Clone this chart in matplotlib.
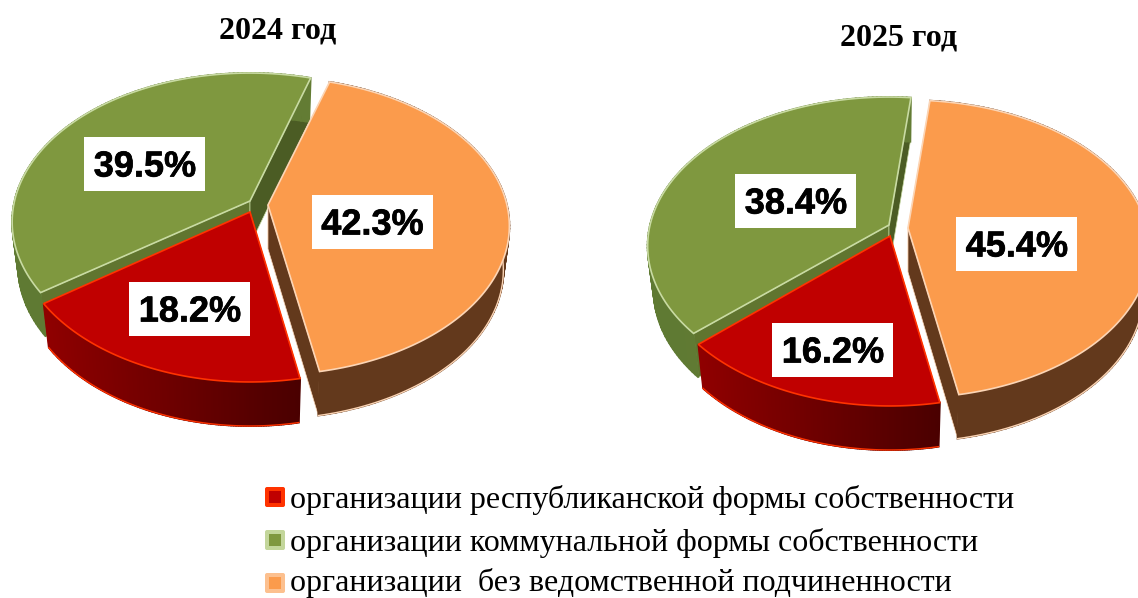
import numpy as np
import matplotlib
matplotlib.use("Agg")
import matplotlib.pyplot as plt
from matplotlib.patches import Polygon, Rectangle, FancyBboxPatch
from matplotlib.colors import to_rgb
import matplotlib.patheffects as pe

categories = ["организации республиканской формы собственности",
              "организации коммунальной формы собственности",
              "организации  без ведомственной подчиненности"]
titles = ["2024 год", "2025 год"]
values_2024 = [18.2, 39.5, 42.3]
values_2025 = [16.2, 38.4, 45.4]

W, H = 1138, 598
fig = plt.figure(figsize=(W/100, H/100), dpi=100)
ax = fig.add_axes([0, 0, 1, 1])
ax.set_xlim(0, W); ax.set_ylim(H, 0); ax.axis("off")

A, B, K = 232, 146, 0.141
INSET = 0.975
TOP = ["#c00000", "#7f983f", "#fb9b4c"]
EDGE = ["#ff3300", "#c9dba3", "#fcd5b5"]
WALL = [("#8f0000", "#4a0000"), ("#5f7a33", "#637c34"), ("#63391c", "#63391c")]
CUT = ["#4a0000", "#4b5c24", "#63391c"]
LAYER = {1: 2, 2: 3, 0: 4}

def rim(t, ap, sx, scale=1.0):
    x, y = np.sin(t), np.cos(t)
    w = 1 + K*y
    return ap[0] + scale*sx*A*x/w, ap[1] - B*y/w

def slice3d(ap, t0, t1, i, d, sx):
    z = LAYER[i]
    ts = np.linspace(t0, t1, 120)
    xs, ys = rim(ts, ap, sx)
    bx, by = rim(ts, ap, sx, INSET)
    by = by + d
    for t, col in ((t0, "#60752f" if i == 1 else CUT[i]), (t1, CUT[i])):
        rx, ry = rim(t, ap, sx)
        qx, qy = rim(t, ap, sx, INSET)
        ax.add_patch(Polygon([ap, (rx, ry), (qx, qy+d), (ap[0], ap[1]+d)],
                             fc=col, ec=EDGE[i], lw=0.5, zorder=z))
    c0, c1 = np.array(to_rgb(WALL[i][0])), np.array(to_rgb(WALL[i][1]))
    xmin, xmax = xs.min(), xs.max()
    for j in range(len(ts)-1):
        f = ((xs[j]+xs[j+1])/2 - xmin)/(xmax-xmin)
        col = c1*f + c0*(1-f)
        ax.add_patch(Polygon([(xs[j], ys[j]), (xs[j+1], ys[j+1]),
                              (bx[j+1], by[j+1]), (bx[j], by[j])],
                             fc=col, ec=col, lw=1.3, zorder=z+0.1))
    if i != 1:
        ax.plot(bx, by, color=EDGE[i], lw=1.0, zorder=z+0.2)
    ax.add_patch(Polygon(np.vstack([[ap], np.c_[xs, ys]]), fc=TOP[i], ec=EDGE[i],
                         lw=1.2, joinstyle="miter", zorder=z+0.3))

def pie3d(vals, start_deg, apexes, d, sx):
    order = [2, 0, 1]
    spans = {i: np.deg2rad(vals[i]/sum(vals)*360) for i in order}
    t = np.deg2rad(start_deg)
    for i in order:
        slice3d(apexes[i], t, t+spans[i], i, d, sx[i])
        t += spans[i]

pie3d(values_2024, 17, [(250, 212), (250, 201), (268, 205)], 44, [1.0, 1.015, 1.03])
pie3d(values_2025, 6, [(890, 236), (889, 225), (908, 228)], 44, [1.01, 1.03, 1.03])

def label(cx, cy, v):
    ax.add_patch(Rectangle((cx-60.5, cy-27), 121, 54, fc="white", ec="none", zorder=5))
    ax.text(cx, cy+3, f"{v}%", ha="center", va="center", fontsize=26, fontweight="bold",
            family="Liberation Sans", color="black", zorder=6,
            path_effects=[pe.withStroke(linewidth=0.5, foreground="black")])

for (c, v) in zip([(190, 309), (145, 164), (372.5, 222)], values_2024):
    label(*c, v)
for (c, v) in zip([(833, 350), (796, 201), (1017, 244)], values_2025):
    label(*c, v)

ax.text(278, 31, titles[0], ha="center", va="center", fontsize=23, fontweight="bold",
        family="Liberation Serif")
ax.text(899, 38, titles[1], ha="center", va="center", fontsize=23, fontweight="bold",
        family="Liberation Serif")

LEG_OUT = ["#ff3300", "#c3d69b", "#fcc08f"]
for i, (name, y, ty) in enumerate(zip(categories, [497, 540, 583], [500, 543, 583.5])):
    ax.add_patch(FancyBboxPatch((265, y-10), 20, 20, boxstyle="round,pad=0,rounding_size=2",
                                fc=LEG_OUT[i], ec="none", zorder=3))
    ax.add_patch(Rectangle((269, y-6), 12, 12, fc=TOP[i], ec="none", zorder=4))
    ax.text(290, ty, name, ha="left", va="center", fontsize=23.05, family="Liberation Serif", color="black")

fig.savefig("out.png", dpi=100, facecolor="white")
